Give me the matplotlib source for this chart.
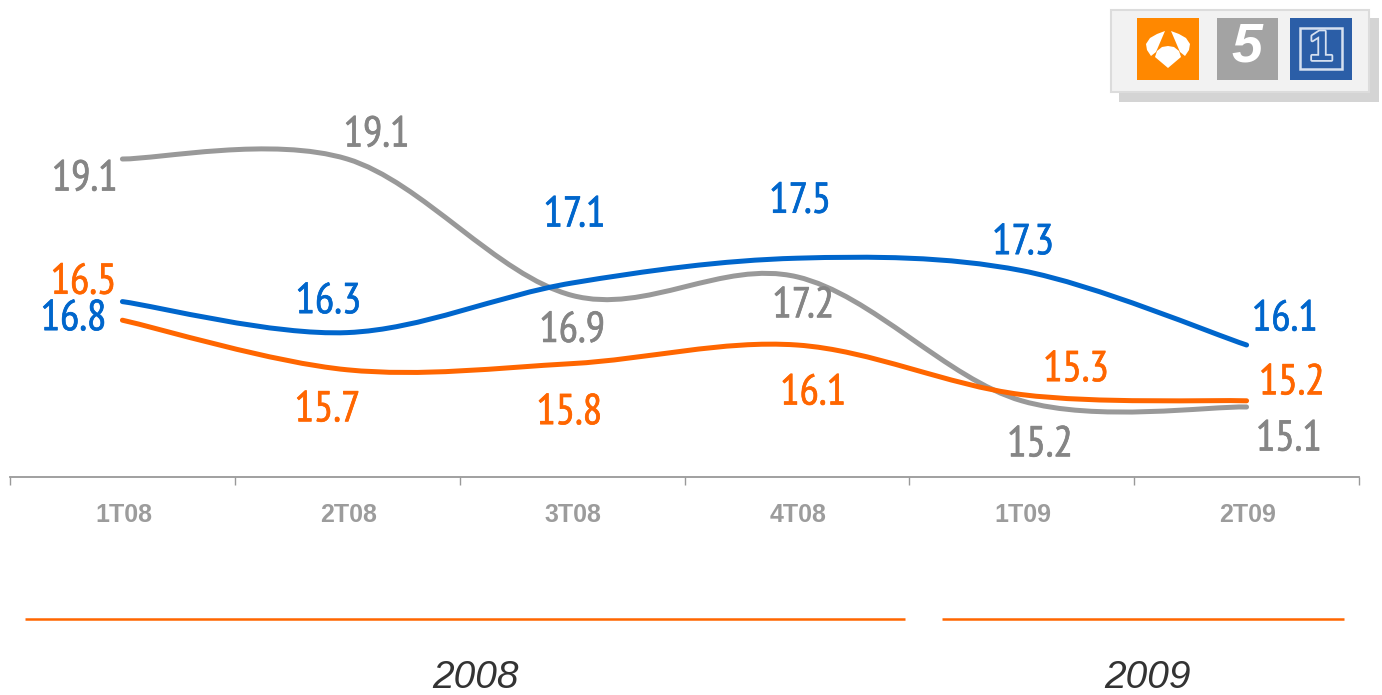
import numpy as np
import matplotlib
matplotlib.use("Agg")
import matplotlib.pyplot as plt
import matplotlib.patheffects as pe
from matplotlib.path import Path
from matplotlib.patches import PathPatch, Rectangle, Polygon
from matplotlib import font_manager as fm

W, H = 1382, 695
categories = ["1T08", "2T08", "3T08", "4T08", "1T09", "2T09"]
telecinco = [19.1, 19.1, 16.9, 17.2, 15.2, 15.1]
tve1 = [16.8, 16.3, 17.1, 17.5, 17.3, 16.1]
antena3 = [16.5, 15.7, 15.8, 16.1, 15.3, 15.2]
years = ["2008", "2009"]

GRAY, BLUE, ORANGE = "#999999", "#0066cc", "#ff6600"
LABEL_GRAY = "#858585"

names = {f.name for f in fm.fontManager.ttflist}
narrow = next((n for n in ["PT Sans Narrow", "Archivo Narrow", "Liberation Sans Narrow", "Liberation Sans"] if n in names))
label_size = 31 if narrow != "Liberation Sans" else 27

# label offsets from their points, in pixels (x right, y up)
off_gray = [(-38, -21), (29, 23), (0, -36), (6, -30), (18, -45), (42, -33)]
off_blue = [(-49, -18), (-19, 30), (2, 67), (3, 56), (1, 27), (38, 25)]
off_orange = [(-39, 37), (-20, -41), (-3, -50), (16, -49), (54, 24), (45, 17)]

fig = plt.figure(figsize=(W / 100, H / 100), dpi=100, facecolor="white")
px = fig.add_axes([0, 0, 1, 1], zorder=0)
px.set_xlim(0, W)
px.set_ylim(H, 0)
px.axis("off")

# logo box
px.add_patch(Rectangle((1119, 18), 260, 84, fc="#d4d4d4", ec="none"))
px.add_patch(Rectangle((1111, 10), 258, 82, fc="#f2f2f2", ec="#dcdcdc", lw=1.5))
px.add_patch(Rectangle((1137, 18), 62, 62, fc="#ff8800", ec="none"))
px.add_patch(Rectangle((1217, 18), 61, 62, fc="#a3a3a3", ec="none"))
px.add_patch(Rectangle((1290, 18), 62, 62, fc="#2b5ea7", ec="none"))
# antena 3 mark
px.add_patch(Polygon([(1157, 34), (1165, 31), (1156, 52), (1151, 56), (1147, 50), (1146, 44), (1150, 38)],
                     fc="white", ec="none"))
px.add_patch(Polygon([(1179, 34), (1171, 31), (1180, 52), (1185, 56), (1189, 50), (1190, 44), (1186, 38)],
                     fc="white", ec="none"))
px.add_patch(Polygon([(1168, 68), (1155, 57), (1157, 51), (1162, 47), (1168, 46), (1174, 47), (1179, 51),
                      (1181, 57)], fc="white", ec="none"))
# telecinco mark
px.text(1247, 48, "5", color="white", fontsize=40, fontweight="bold", style="italic",
        family="Liberation Sans", ha="center", va="center")
# la 1 mark
px.add_patch(Rectangle((1300, 28), 42, 41, fc="none", ec="#d5e0f0", lw=1.8))
px.text(1321, 49, "1", color="#2b5ea7", fontsize=30, fontweight="bold", family="Liberation Sans",
        ha="center", va="center",
        path_effects=[pe.withStroke(linewidth=2.6, foreground="#d5e0f0")])

# year rules and labels
px.plot([25, 905], [618.5, 618.5], color=ORANGE, lw=1.8, solid_capstyle="butt")
px.plot([942, 1344], [618.5, 618.5], color=ORANGE, lw=1.8, solid_capstyle="butt")
px.text(475, 678.5, years[0], fontsize=28, style="italic", color="#333333",
        family="Liberation Sans", ha="center", va="center")
px.text(1147, 678, years[1], fontsize=28, style="italic", color="#333333",
        family="Liberation Sans", ha="center", va="center")

# chart axes: 62 px per unit, 19.1 at y=159, baseline y=477
ax = fig.add_axes([10 / W, (H - 477) / H, 1349 / W, 477 / H], zorder=1)
ax.patch.set_alpha(0)
ax.set_xlim(0, 6)
ax.set_ylim(19.1 - (477 - 159) / 62, 19.1 + 159 / 62)
for s in ("top", "left", "right"):
    ax.spines[s].set_visible(False)
ax.spines["bottom"].set_color("#999999")
ax.spines["bottom"].set_linewidth(1.3)
ax.set_yticks([])
ax.set_xticks(range(7))
ax.set_xticklabels([])
ax.tick_params(axis="x", length=6, width=1, color="#999999")
xs = np.arange(6) + 0.5
for x, c in zip(xs, categories):
    ax.annotate(c, (x, 0), xycoords=("data", "axes fraction"), xytext=(1, -38),
                textcoords="offset pixels", ha="center", va="center",
                fontsize=18, fontweight="bold", color="#9c9c9c", family="Liberation Sans")


def smooth(xv, yv):
    pts = np.column_stack([np.asarray(xv, float), np.asarray(yv, float)])
    verts, codes = [pts[0]], [Path.MOVETO]
    n = len(pts)
    for i in range(n - 1):
        t0 = (pts[min(i + 1, n - 1)] - pts[max(i - 1, 0)]) / 6
        t1 = (pts[min(i + 2, n - 1)] - pts[i]) / 6
        verts += [pts[i] + t0, pts[i + 1] - t1, pts[i + 1]]
        codes += [Path.CURVE4] * 3
    return Path(verts, codes)


for vals, col, tcol, offs in [(telecinco, GRAY, LABEL_GRAY, off_gray),
                              (tve1, BLUE, BLUE, off_blue),
                              (antena3, ORANGE, ORANGE, off_orange)]:
    ax.add_patch(PathPatch(smooth(xs, vals), fc="none", ec=col, lw=3.6, capstyle="round", joinstyle="round"))
    for x, v, o in zip(xs, vals, offs):
        ax.annotate(f"{v:.1f}", (x, v), xytext=o, textcoords="offset pixels", ha="center", va="center",
                    fontsize=label_size, color=tcol, family=narrow,
                    path_effects=[pe.withStroke(linewidth=0.5, foreground=tcol)])

fig.savefig("out.png", dpi=100)
